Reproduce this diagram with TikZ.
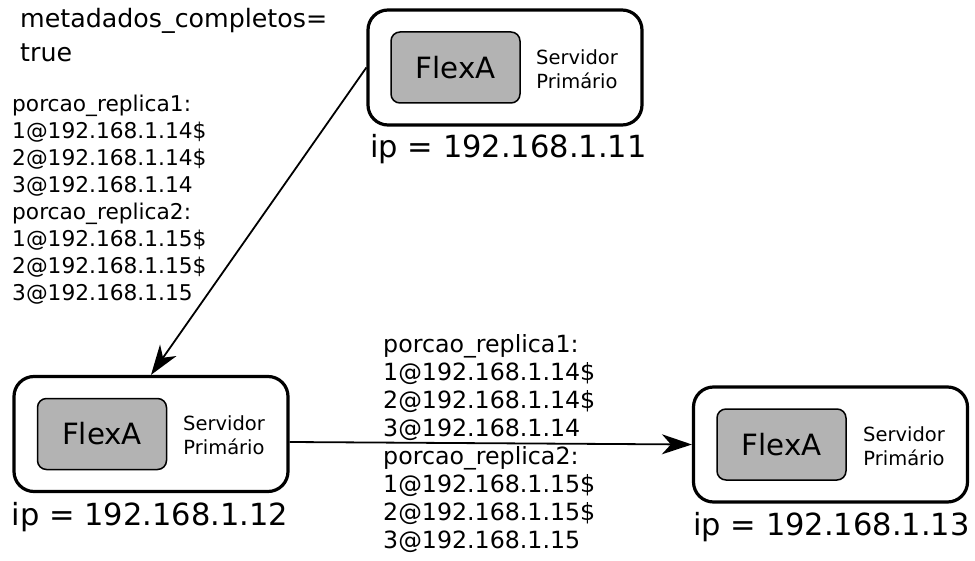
\documentclass[tikz,border=0pt]{standalone}
\usepackage{fontspec}
\setmainfont{DejaVu Sans}
\usetikzlibrary{arrows.meta}
\definecolor{boxgray}{HTML}{B3B3B3}
\begin{document}
\begin{tikzpicture}[x=1pt,y=-1pt,
  server/.style={draw, line width=3.2pt, rounded corners=20pt, minimum width=274pt, minimum height=115pt, inner sep=0pt, fill=white},
  flexbox/.style={draw, line width=1.5pt, rounded corners=9pt, fill=boxgray, minimum width=129pt, minimum height=71pt, inner sep=0pt, font=\fontsize{29.3}{34}\selectfont},
  role/.style={align=center, inner sep=0pt, font=\fontsize{19.5}{23.5}\selectfont},
  iplabel/.style={anchor=base, inner sep=0pt, font=\fontsize{30.5}{36}\selectfont},
  meta/.style={anchor=north west, align=left, inner sep=0pt},
  conn/.style={line width=1.8pt, -{Stealth[length=30pt, width=20pt, inset=9pt]}}
]
\useasboundingbox (0,0) rectangle (975,561);

% server 1 (top)
\node[server] (s1) at (505,67.5) {};
\node[flexbox] (f1) at (455.5,67.5) {FlexA};
\node[role] (r1) at (577,69) {Servidor\\Primário};
\node[iplabel] (ip1) at (508.5,158) {ip = 192.168.1.11};

% server 2 (left)
\node[server] (s2) at (151,434) {};
\node[flexbox] (f2) at (102,434) {FlexA};
\node[role] (r2) at (224,435) {Servidor\\Primário};
\node[iplabel] (ip2) at (150,525) {ip = 192.168.1.12};

% server 3 (right)
\node[server] (s3) at (830.5,444.5) {};
\node[flexbox] (f3) at (781.5,444.5) {FlexA};
\node[role] (r3) at (904,446) {Servidor\\Primário};
\node[iplabel] (ip3) at (831.5,535) {ip = 192.168.1.13};

% texts
\node[meta, font=\fontsize{25.3}{34}\selectfont] (md) at (20,8) {metadados\_completos=\\true};
\node[meta, font=\fontsize{21.7}{27}\selectfont] (lst1) at (12,95) {porcao\_replica1:\\1@192.168.1.14\$\\2@192.168.1.14\$\\3@192.168.1.14\\porcao\_replica2:\\1@192.168.1.15\$\\2@192.168.1.15\$\\3@192.168.1.15};
\node[meta, font=\fontsize{23.7}{28}\selectfont] (lst2) at (383,334) {porcao\_replica1:\\1@192.168.1.14\$\\2@192.168.1.14\$\\3@192.168.1.14\\porcao\_replica2:\\1@192.168.1.15\$\\2@192.168.1.15\$\\3@192.168.1.15};

% connectors
\draw[conn] (s1.west) -- (s2.north);
\draw[conn] ([yshift=-8pt]s2.east) -- (s3.west);
\end{tikzpicture}
\end{document}
